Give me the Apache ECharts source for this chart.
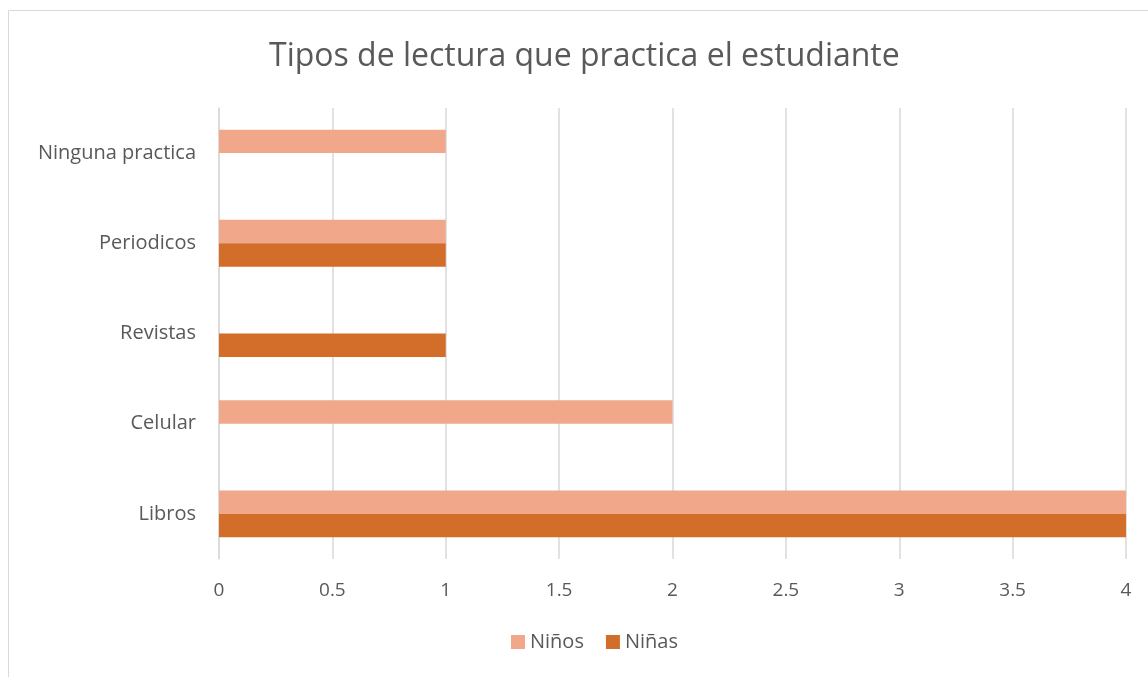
<!DOCTYPE html>
<html>
<head>
<meta charset="utf-8">
<style>
  html, body { margin: 0; padding: 0; background: #fff; }
  #chart { width: 1148px; height: 677px; }
</style>
<script src="https://cdn.jsdelivr.net/npm/echarts@6/dist/echarts.min.js"></script>
</head>
<body>
<div id="chart"></div>
<script>
const categories = ['Libros', 'Celular', 'Revistas', 'Periodicos', 'Ninguna practica'];
const ninos = [4, 2, 0, 1, 1];
const ninas = [4, 0, 1, 1, 0];
const xTicks = [0, 0.5, 1, 1.5, 2, 2.5, 3, 3.5, 4];

const textColor = '#595959';
const gridColor = '#D9D9D9';
const font = '"Open Sans", "Liberation Sans", sans-serif';

const chart = echarts.init(document.getElementById('chart'));

chart.setOption({
  animation: false,
  textStyle: { fontFamily: font },
  graphic: [{
    type: 'rect',
    shape: { x: 8.5, y: 10.5, width: 1160, height: 700 },
    style: { fill: 'none', stroke: '#D9D9D9', lineWidth: 1 },
    silent: true
  }],
  title: {
    text: 'Tipos de lectura que practica el estudiante',
    left: 264,
    top: 36,
    textStyle: { fontSize: 32, fontWeight: 'normal', color: textColor, fontFamily: font }
  },
  legend: {
    bottom: 20,
    left: 506,
    itemWidth: 14,
    itemHeight: 14,
    itemGap: 22,
    icon: 'rect',
    textStyle: { fontSize: 20, color: textColor, fontFamily: font },
    data: ['Niños', 'Niñas']
  },
  grid: { left: 219, right: 22, top: 108, bottom: 118 },
  xAxis: {
    type: 'value',
    min: xTicks[0],
    max: xTicks[xTicks.length - 1],
    interval: 0.5,
    axisLine: { show: false },
    axisTick: { show: false },
    axisLabel: { fontSize: 19, color: textColor, margin: 22, fontFamily: font },
    splitLine: { lineStyle: { color: gridColor, width: 1.5 } }
  },
  yAxis: {
    type: 'category',
    data: categories,
    axisLine: { lineStyle: { color: gridColor, width: 1.5 } },
    axisTick: { show: false },
    axisLabel: { fontSize: 20, color: textColor, margin: 23, fontFamily: font }
  },
  series: [
    {
      name: 'Niños',
      type: 'bar',
      data: ninos,
      barGap: '0%',
      barCategoryGap: '48%',
      itemStyle: { color: '#F1A78A' }
    },
    {
      name: 'Niñas',
      type: 'bar',
      data: ninas,
      barGap: '0%',
      barCategoryGap: '48%',
      itemStyle: { color: '#D26E2A' }
    }
  ]
});
</script>
</body>
</html>
